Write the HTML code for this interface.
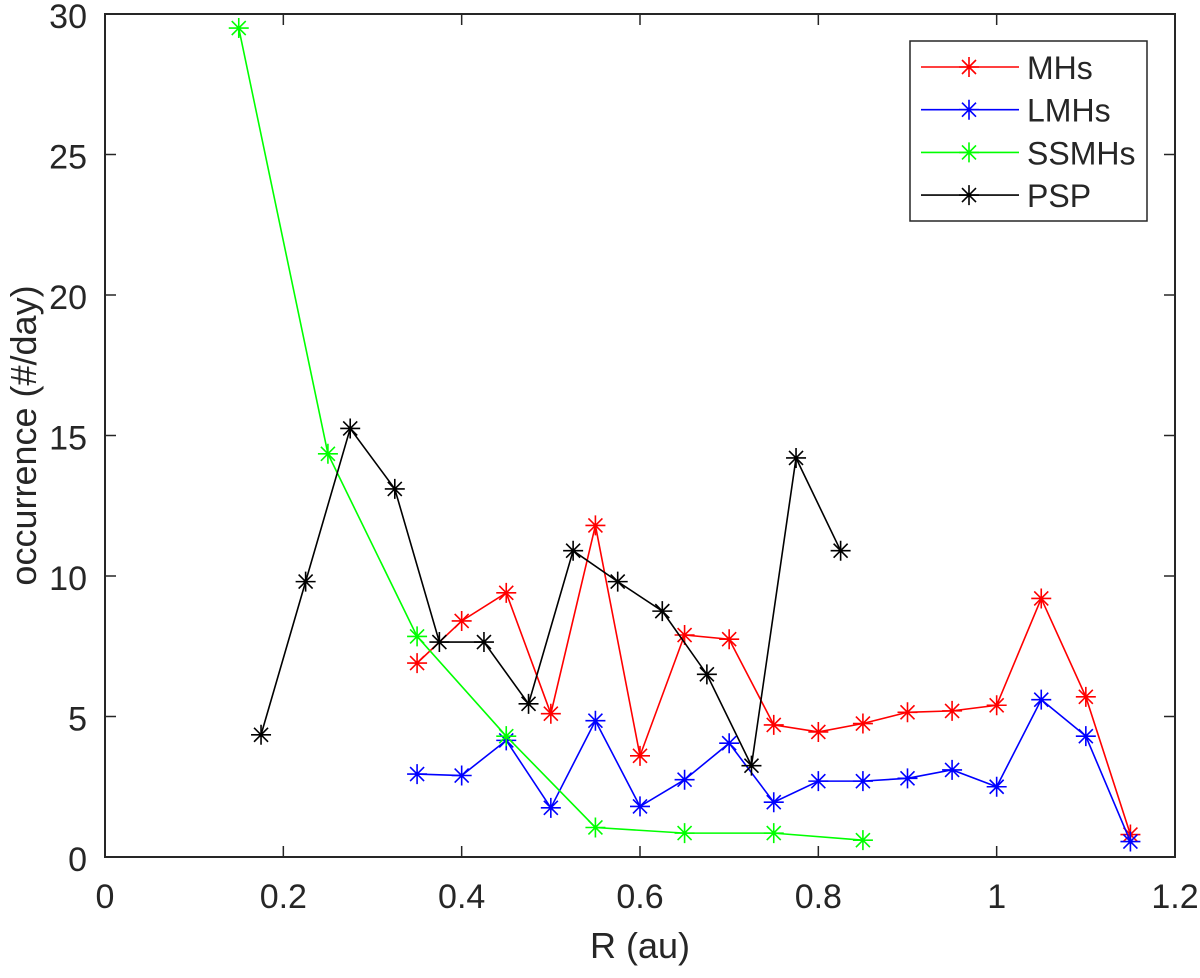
<!DOCTYPE html>
<html><head><meta charset="utf-8"><style>
body{margin:0;background:#fff}
svg text{font-family:"Liberation Sans",sans-serif;fill:#262626}
</style></head><body>
<svg id="chart" width="1200" height="973" xmlns="http://www.w3.org/2000/svg">
<rect x="0" y="0" width="1200" height="973" fill="#fff"/>
<g id="axes"></g><g id="series"></g><g id="legend"></g>
</svg>
<script>
const xTicks=[0,0.2,0.4,0.6,0.8,1,1.2];
const xTickLabels=["0","0.2","0.4","0.6","0.8","1","1.2"];
const yTicks=[0,5,10,15,20,25,30];
const yTickLabels=["0","5","10","15","20","25","30"];
const mhsX=[0.35,0.4,0.45,0.5,0.55,0.6,0.65,0.7,0.75,0.8,0.85,0.9,0.95,1.0,1.05,1.1,1.15];
const mhsY=[6.9,8.4,9.4,5.1,11.8,3.6,7.9,7.75,4.7,4.45,4.75,5.15,5.2,5.4,9.2,5.7,0.8];
const lmhsX=[0.35,0.4,0.45,0.5,0.55,0.6,0.65,0.7,0.75,0.8,0.85,0.9,0.95,1.0,1.05,1.1,1.15];
const lmhsY=[2.95,2.9,4.15,1.75,4.85,1.8,2.75,4.05,1.95,2.7,2.7,2.8,3.1,2.5,5.6,4.3,0.55];
const ssmhsX=[0.15,0.25,0.35,0.45,0.55,0.65,0.75,0.85];
const ssmhsY=[29.5,14.35,7.85,4.3,1.05,0.85,0.85,0.6];
const pspX=[0.175,0.225,0.275,0.325,0.375,0.425,0.475,0.525,0.575,0.625,0.675,0.725,0.775,0.825];
const pspY=[4.35,9.8,15.25,13.1,7.65,7.65,5.45,10.9,9.8,8.75,6.5,3.25,14.2,10.9];
const seriesNames=["MHs","LMHs","SSMHs","PSP"];

const L=105,R=1175,T=14,B=857;
const sx=v=>L+v/1.2*(R-L);
const sy=v=>B-v/30*(B-T);
const NS="http://www.w3.org/2000/svg";
function mk(tag,attrs,parent){const e=document.createElementNS(NS,tag);for(const k in attrs)e.setAttribute(k,attrs[k]);parent.appendChild(e);return e;}
const axes=document.getElementById('axes');
const box=mk('rect',{x:L,y:T,width:R-L,height:B-T,fill:'none',stroke:'#262626','stroke-width':2},axes);


xTicks.forEach((v,i)=>{
  const x=sx(v);
  mk('line',{x1:x,y1:B,x2:x,y2:B-11,stroke:'#262626','stroke-width':1.5},axes);
  mk('line',{x1:x,y1:T,x2:x,y2:T+11,stroke:'#262626','stroke-width':1.5},axes);
  const t=mk('text',{x:x,y:B+51,'text-anchor':'middle','font-size':34},axes);
  t.textContent=xTickLabels[i];
  
  
});
yTicks.forEach((v,i)=>{
  const y=sy(v);
  mk('line',{x1:L,y1:y,x2:L+11,y2:y,stroke:'#262626','stroke-width':1.5},axes);
  mk('line',{x1:R,y1:y,x2:R-11,y2:y,stroke:'#262626','stroke-width':1.5},axes);
  const t=mk('text',{x:L-18,y:y+14,'text-anchor':'end','font-size':34},axes);
  t.textContent=yTickLabels[i];
  
  
});
const xt=mk('text',{x:(L+R)/2,y:958,'text-anchor':'middle','font-size':36},axes);
xt.textContent='R (au)';


const yt=mk('text',{x:0,y:0,'text-anchor':'middle','font-size':36,transform:`translate(36,${(T+B)/2}) rotate(-90)`},axes);
yt.textContent='occurrence (#/day)';



function star(g,x,y,c){
  const r=10,d=7;
  mk('path',{d:`M${x-r},${y}H${x+r}M${x},${y-r}V${y+r}M${x-d},${y-d}L${x+d},${y+d}M${x-d},${y+d}L${x+d},${y-d}`,stroke:c,'stroke-width':1.6,fill:'none'},g);
}
const ser=document.getElementById('series');
const data=[[mhsX,mhsY,'#ff0000'],[lmhsX,lmhsY,'#0000ff'],[ssmhsX,ssmhsY,'#00ff00'],[pspX,pspY,'#000000']];
data.forEach((d,i)=>{
  const g=mk('g',{},ser);
  
  
  mk('polyline',{points:d[0].map((x,j)=>sx(x)+','+sy(d[1][j])).join(' '),fill:'none',stroke:d[2],'stroke-width':1.6},g);
  d[0].forEach((x,j)=>star(g,sx(x),sy(d[1][j]),d[2]));
});
const lg=document.getElementById('legend');


mk('rect',{x:910,y:41,width:237,height:180,fill:'#fff',stroke:'#262626','stroke-width':1.5},lg);
seriesNames.forEach((n,i)=>{
  const y=67+i*42.7;
  const g=mk('g',{},lg);
  
  
  mk('line',{x1:921,y1:y,x2:1019,y2:y,stroke:data[i][2],'stroke-width':1.6},g);
  star(g,969,y,data[i][2]);
  const t=mk('text',{x:1027,y:y+12,'font-size':32},g);
  t.textContent=n;
  t.setAttribute('fill','#000');
});
</script>
</body></html>
